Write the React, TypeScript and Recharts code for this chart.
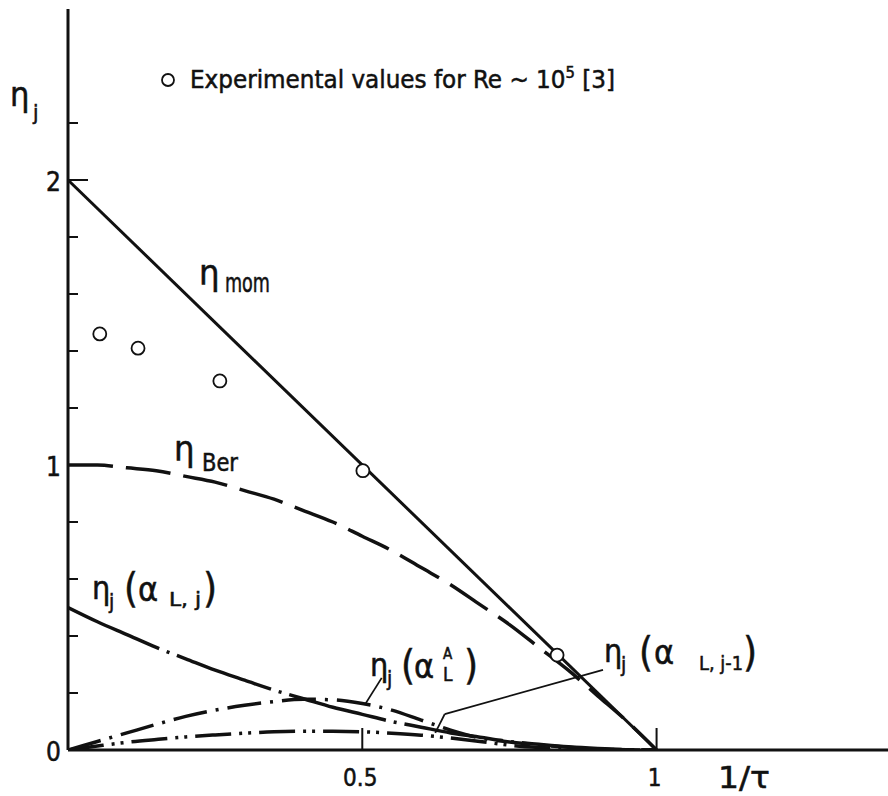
import { ComposedChart, Line, Scatter, XAxis, YAxis, ReferenceLine } from "recharts";

const FONT = "'DejaVu Sans Condensed', 'DejaVu Sans', 'Liberation Sans', Arial, sans-serif";
const INK = "#111";

// 1/tau grid shared by the computed efficiency curves
const tauGrid = [0, 0.05, 0.1, 0.15, 0.2, 0.25, 0.3, 0.35, 0.4, 0.45, 0.5, 0.55, 0.6, 0.65, 0.7, 0.75, 0.8, 0.85, 0.9, 0.95, 1];
const etaBer = [1.0, 1.0, 0.99, 0.98, 0.96, 0.94, 0.91, 0.88, 0.84, 0.8, 0.75, 0.7, 0.64, 0.58, 0.51, 0.44, 0.36, 0.28, 0.19, 0.1, 0];
const etaLj = [0.5, 0.45, 0.405, 0.36, 0.32, 0.28, 0.245, 0.21, 0.18, 0.15, 0.125, 0.1, 0.08, 0.06, 0.045, 0.03, 0.02, 0.011, 0.005, 0.001, 0];
const etaLA = [0, 0.03, 0.06, 0.09, 0.118, 0.14, 0.157, 0.17, 0.178, 0.176, 0.163, 0.14, 0.105, 0.07, 0.042, 0.028, 0.018, 0.01, 0.004, 0.001, 0];
const etaLj1 = [0, 0.014, 0.027, 0.037, 0.046, 0.053, 0.059, 0.064, 0.066, 0.066, 0.064, 0.059, 0.052, 0.042, 0.03, 0.017, 0.009, 0.004, 0.002, 0.001, 0];

// momentum balance: straight line
const momX = [0, 1];
const momY = [2, 0];

// measured points, Re ~ 1e5
const expX = [0.054, 0.119, 0.258, 0.501, 0.831];
const expY = [1.46, 1.41, 1.295, 0.98, 0.333];

const xTicks = [0.5, 1];
const yTicks = [0, 0.2, 0.4, 0.6, 0.8, 1, 1.2, 1.4, 1.6, 1.8, 2, 2.2];
const yLabelled = [0, 1, 2];

const pts = (xs: number[], ys: number[]) => xs.map((x, i) => ({ x, y: ys[i] }));

const berData = pts(tauGrid, etaBer);
const ljData = pts(tauGrid, etaLj);
const laData = pts(tauGrid, etaLA);
const lj1Data = pts(tauGrid, etaLj1);
const momData = pts(momX, momY);
const expData = pts(expX, expY);

// slightly heavy lettering, like pen-drawn text
const txt = { fontFamily: FONT, fill: INK, stroke: INK, strokeWidth: 0.5 };

const BottomTick = (p: any) => (
  <g>
    <line x1={p.x} x2={p.x} y1={p.y} y2={p.y - 22} stroke={INK} strokeWidth={2} />
    <text x={p.x - 2} y={p.y + 36} textAnchor="middle" fontSize={24} {...txt}>
      {String(p.payload.value)}
    </text>
  </g>
);

const TopTick = (p: any) => (
  <line x1={p.x} x2={p.x} y1={p.y} y2={p.y + 25} stroke={INK} strokeWidth={2} />
);

const LeftTick = (p: any) => {
  const v = p.payload.value;
  const major = yLabelled.includes(v);
  return (
    <g>
      {v !== 0 && (
        <line x1={p.x} x2={p.x + (major ? 20 : 10)} y1={p.y} y2={p.y} stroke={INK} strokeWidth={2} />
      )}
      {major && (
        <text x={p.x - 7} y={p.y + 11} textAnchor="end" fontSize={26} {...txt}>
          {String(v)}
        </text>
      )}
    </g>
  );
};

const RightTick = (p: any) => {
  const v = p.payload.value;
  if (v === 0) return <g />;
  const len = yLabelled.includes(v) ? 20 : 10;
  return <line x1={p.x - len} x2={p.x} y1={p.y} y2={p.y} stroke={INK} strokeWidth={2} />;
};

const ExpCircle = (p: any) => (
  <circle cx={p.cx} cy={p.cy} r={6.5} fill="#fff" stroke={INK} strokeWidth={1.8} />
);

const curve = {
  xAxisId: "b",
  yAxisId: "l",
  dataKey: "y",
  stroke: INK,
  strokeWidth: 3.5,
  dot: false,
  activeDot: false,
  isAnimationActive: false,
} as const;

function Annotations() {
  const t = txt;
  return (
    <svg width={888} height={796} style={{ position: "absolute", left: 0, top: 0, pointerEvents: "none" }}>
      {/* axis titles */}
      <text x={10} y={106} fontSize={34} {...t}>η</text>
      <text x={33} y={120} fontSize={22} {...t}>j</text>
      <text x={718} y={788} fontSize={30} textLength={52} lengthAdjust="spacingAndGlyphs" {...t}>1/τ</text>

      {/* key */}
      <circle cx={168} cy={80} r={6} fill="#fff" stroke={INK} strokeWidth={1.8} />
      <text x={190} y={88} fontSize={25} textLength={425} lengthAdjust="spacingAndGlyphs" {...t}>
        Experimental values for Re ~ 10<tspan dy={-10} fontSize={16}>5</tspan>
        <tspan dy={10}> [3]</tspan>
      </text>

      {/* eta_mom */}
      <text x={199} y={285} fontSize={36} {...t}>η</text>
      <text x={225} y={292} fontSize={26} textLength={45} lengthAdjust="spacingAndGlyphs" {...t}>mom</text>

      {/* eta_Ber */}
      <text x={174} y={461} fontSize={36} {...t}>η</text>
      <text x={202} y={471} fontSize={24} textLength={36} lengthAdjust="spacingAndGlyphs" {...t}>Ber</text>

      {/* eta_j(alpha_L,j) */}
      <text x={92} y={599} fontSize={32} {...t}>η</text>
      <text x={109} y={609} fontSize={21} {...t}>j</text>
      <text x={124} y={602} fontSize={40} {...t}>(</text>
      <text x={138} y={601} fontSize={34} {...t}>α</text>
      <text x={169} y={606} fontSize={20} textLength={32} lengthAdjust="spacingAndGlyphs" {...t}>L, j</text>
      <text x={203} y={602} fontSize={40} {...t}>)</text>

      {/* eta_j(alpha_L^A) */}
      <text x={370} y={676} fontSize={32} {...t}>η</text>
      <text x={387} y={686} fontSize={21} {...t}>j</text>
      <text x={401} y={679} fontSize={40} {...t}>(</text>
      <text x={414} y={678} fontSize={34} {...t}>α</text>
      <text x={443} y={659} fontSize={15} {...t}>A</text>
      <text x={443} y={681} fontSize={19} {...t}>L</text>
      <text x={464} y={679} fontSize={40} {...t}>)</text>

      {/* eta_j(alpha_L,j-1) */}
      <text x={604} y={662} fontSize={32} {...t}>η</text>
      <text x={621} y={672} fontSize={21} {...t}>j</text>
      <text x={639} y={666} fontSize={40} {...t}>(</text>
      <text x={654} y={664} fontSize={34} {...t}>α</text>
      <text x={699} y={670} fontSize={20} textLength={44} lengthAdjust="spacingAndGlyphs" {...t}>L, j-1</text>
      <text x={743} y={666} fontSize={40} {...t}>)</text>
    </svg>
  );
}

export default function App() {
  return (
    <div style={{ position: "absolute", left: 0, top: 0, width: 888, height: 796, overflow: "hidden", background: "#fff" }}>
      <ComposedChart width={900} height={796} margin={{ top: 9, right: 8, bottom: 0, left: 0 }}>
        <XAxis
          xAxisId="b"
          type="number"
          dataKey="x"
          domain={[0, 1.4]}
          ticks={xTicks}
          interval={0}
          height={46}
          tickSize={0}
          tickMargin={0}
          tickLine={false}
          axisLine={{ stroke: INK, strokeWidth: 3 }}
          tick={BottomTick}
          allowDataOverflow
        />
        <XAxis
          xAxisId="t"
          orientation="top"
          type="number"
          dataKey="x"
          domain={[0, 1.4]}
          ticks={xTicks}
          interval={0}
          height={0}
          tickSize={0}
          tickMargin={0}
          tickLine={false}
          axisLine={{ stroke: INK, strokeWidth: 3 }}
          tick={TopTick}
          allowDataOverflow
        />
        <YAxis
          yAxisId="l"
          type="number"
          domain={[0, 2.6]}
          ticks={yTicks}
          interval={0}
          width={68}
          tickSize={0}
          tickMargin={0}
          tickLine={false}
          axisLine={{ stroke: INK, strokeWidth: 3 }}
          tick={LeftTick}
          allowDataOverflow
        />
        <YAxis
          yAxisId="r"
          orientation="right"
          type="number"
          domain={[0, 2.6]}
          ticks={yTicks}
          interval={0}
          width={0}
          tickSize={0}
          tickMargin={0}
          tickLine={false}
          axisLine={{ stroke: INK, strokeWidth: 3 }}
          tick={RightTick}
          allowDataOverflow
        />

        <Line {...curve} data={lj1Data} type="monotone" strokeDasharray="36 8 3 6 3 8" />
        <Line {...curve} data={laData} type="monotone" strokeDasharray="34 9 3 9" />
        <Line {...curve} data={ljData} type="monotone" strokeDasharray="100 8 3 8" />
        <Line {...curve} data={berData} type="monotone" strokeDasharray="45 13" />
        <Line {...curve} data={momData} type="linear" strokeWidth={3} />

        {/* leader lines to the curve labels */}
        <ReferenceLine xAxisId="b" yAxisId="l" segment={[{ x: 0.533, y: 0.253 }, { x: 0.505, y: 0.161 }]} stroke={INK} strokeWidth={1.8} ifOverflow="visible" />
        <ReferenceLine xAxisId="b" yAxisId="l" segment={[{ x: 0.909, y: 0.281 }, { x: 0.64, y: 0.126 }]} stroke={INK} strokeWidth={1.8} ifOverflow="visible" />
        <ReferenceLine xAxisId="b" yAxisId="l" segment={[{ x: 0.64, y: 0.126 }, { x: 0.624, y: 0.06 }]} stroke={INK} strokeWidth={1.8} ifOverflow="visible" />

        <Scatter xAxisId="b" yAxisId="l" data={expData} dataKey="y" shape={ExpCircle} isAnimationActive={false} />
      </ComposedChart>
      <Annotations />
    </div>
  );
}
